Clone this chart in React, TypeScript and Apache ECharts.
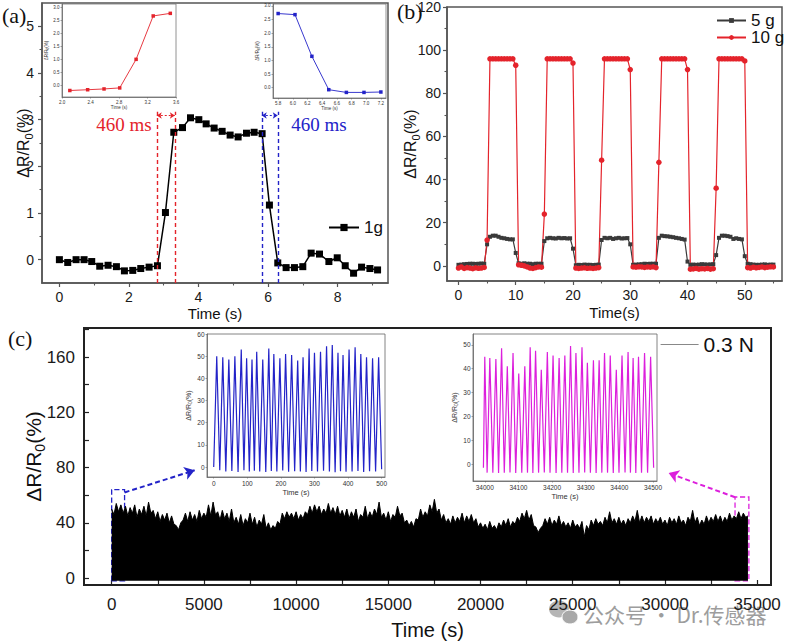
import React, { useEffect, useRef } from "react";
import * as echarts from "echarts";

const SANS = "'Liberation Sans', Arial, Helvetica, sans-serif";
const SERIF = "'Liberation Serif', 'Times New Roman', serif";

// ---------- Panel (a): response / recovery, 1 g ----------
const aTime = [0, 0.24, 0.48, 0.71, 0.93, 1.16, 1.4, 1.64, 1.87, 2.11, 2.34, 2.58, 2.82, 3.05, 3.29, 3.54, 3.77, 4.01, 4.22, 4.45, 4.68, 4.91, 5.14, 5.38, 5.6, 5.83, 6.04, 6.28, 6.52, 6.76, 7.0, 7.24, 7.48, 7.75, 7.99, 8.22, 8.46, 8.69, 8.93, 9.15];
const aResp = [0, -0.06, 0, 0, -0.04, -0.14, -0.12, -0.15, -0.24, -0.23, -0.19, -0.16, -0.13, 1.01, 2.73, 2.83, 3.04, 3.0, 2.91, 2.82, 2.75, 2.67, 2.63, 2.71, 2.73, 2.7, 1.17, -0.07, -0.17, -0.17, -0.15, 0.14, 0.12, -0.04, 0.04, -0.13, -0.29, -0.16, -0.19, -0.22];
const riseTime = [2.11, 2.36, 2.59, 2.81, 3.04, 3.28, 3.52];
const riseVal = [-0.2, -0.17, -0.14, -0.1, 1.0, 2.67, 2.77];
const fallTime = [5.8, 6.03, 6.26, 6.49, 6.73, 6.97, 7.2];
const fallVal = [2.72, 2.68, 1.15, -0.075, -0.175, -0.175, -0.16];
const responseMarks = [2.8, 3.32];
const recoveryMarks = [5.82, 6.28];
const aXTicks = [0, 2, 4, 6, 8];
const aXMinor = [1, 3, 5, 7, 9];
const aYTicks = [0, 1, 2, 3, 4, 5];
const aYMinor = [0.5, 1.5, 2.5, 3.5, 4.5];
const riseXTicks = [2.0, 2.4, 2.8, 3.2, 3.6];
const insetYTicks = [0, 0.5, 1.0, 1.5, 2.0, 2.5, 3.0];
const fallXTicks = [5.8, 6.0, 6.2, 6.4, 6.6, 6.8, 7.0, 7.2];

// ---------- Panel (b): 5 g / 10 g cycles ----------
const timeB = [0, 0.5, 1, 1.5, 2, 2.5, 3, 3.5, 4, 4.5, 5, 5.5, 6, 6.5, 7, 7.5, 8, 8.5, 9, 9.5, 10, 10.5, 11, 11.5, 12, 12.5, 13, 13.5, 14, 14.5, 15, 15.5, 16, 16.5, 17, 17.5, 18, 18.5, 19, 19.5, 20, 20.5, 21, 21.5, 22, 22.5, 23, 23.5, 24, 24.5, 25, 25.5, 26, 26.5, 27, 27.5, 28, 28.5, 29, 29.5, 30, 30.5, 31, 31.5, 32, 32.5, 33, 33.5, 34, 34.5, 35, 35.5, 36, 36.5, 37, 37.5, 38, 38.5, 39, 39.5, 40, 40.5, 41, 41.5, 42, 42.5, 43, 43.5, 44, 44.5, 45, 45.5, 46, 46.5, 47, 47.5, 48, 48.5, 49, 49.5, 50, 50.5, 51, 51.5, 52, 52.5, 53, 53.5, 54, 54.5, 55];
const load10g = [
  -1, -0.5, -1.2, -0.8, -1, -1.3, -0.9, -1.1, -1, -0.7,
  12, 96, 96, 96, 96, 96, 96, 96, 96, 96,
  93, 0.5, 0.3, 0, -0.5, -1, -1.2, -0.8, -0.5, -0.6,
  24, 96, 96, 96, 96, 96, 96, 96, 96, 96,
  94, -1, -1.2, -1, -0.9, -1.1, -1, -1.2, -1, -0.8,
  49, 96, 96, 96, 96, 96, 96, 96, 96, 96,
  91, -0.5, -0.6, -0.4, -0.5, -0.7, -0.5, -0.6, -0.4, -0.8,
  48, 96, 96, 96, 96, 96, 96, 96, 96, 96,
  91, -1.5, -1.4, -1.2, -1.5, -1.3, -1.4, -1.2, -1.5, -1.3,
  36, 96, 96, 96, 96, 96, 96, 96, 96, 96,
  95, -0.8, -1, -0.6, -0.9, -0.7, -0.5, -0.8, -0.6, -0.4, -0.5,
];
const load5g = [
  0.5, 0.6, 0.8, 0.9, 1, 1, 0.9, 1, 1.1, 1,
  10, 13.5, 14, 14, 13.5, 13, 12.8, 12.5, 12.3, 12.3,
  6, 1.2, 1, 1.2, 1, 1, 0.8, 1, 1, 1,
  11.5, 12.8, 13, 12.8, 12.7, 13, 12.8, 12.9, 12.7, 12.8,
  8, 0.3, 0.5, 0.4, 0.6, 0.5, 0.5, 0.4, 0.5, 0.6,
  12, 13, 12.8, 13, 12.5, 12.8, 13, 12.7, 12.8, 12.9,
  10, 0.5, 0.6, 0.7, 0.8, 1, 0.9, 1, 1, 1,
  13, 14, 13.8, 13.7, 13.5, 13.3, 13, 12.8, 12.5, 12.2,
  2, 0.5, 0.6, 0.5, 0.6, 0.8, 0.7, 0.6, 0.7, 0.8,
  5, 13, 14, 14, 13.8, 13.5, 12.5, 12.8, 12.5, 12.3,
  4.5, 1, 0.8, 0.6, 0.5, 0.5, 0.6, 0.7, 0.5, 0.6, 0.6,
];
const bXTicks = [0, 10, 20, 30, 40, 50];
const bXMinor = [5, 15, 25, 35, 45, 55];
const bYTicks = [0, 20, 40, 60, 80, 100, 120];
const bYMinor = [10, 30, 50, 70, 90, 110];

// ---------- Panel (c): 0.3 N endurance (upper envelope of the dense cycling trace) ----------
const enduranceEnvelope: [number, number][] = [
  [0, 50], [125, 46], [250, 54], [375, 48], [500, 53], [625, 47], [750, 52], [875, 45], [1000, 51], [1125, 47],
  [1250, 53], [1375, 44], [1500, 50], [1625, 46], [1750, 52], [1875, 45], [2000, 55], [2125, 47], [2250, 49], [2375, 43],
  [2500, 48], [2625, 41], [2750, 46], [2875, 42], [3000, 47], [3125, 40], [3250, 45], [3375, 39], [3500, 38], [3625, 35],
  [3750, 40], [3875, 42], [4000, 47], [4125, 41], [4250, 48], [4375, 42], [4500, 46], [4625, 41], [4750, 49], [4875, 43],
  [5000, 47], [5125, 44], [5250, 53], [5375, 45], [5500, 55], [5625, 46], [5750, 48], [5875, 42], [6000, 49], [6125, 43],
  [6250, 47], [6375, 41], [6500, 50], [6625, 40], [6750, 44], [6875, 39], [7000, 46], [7125, 38], [7250, 43], [7375, 40],
  [7500, 47], [7625, 39], [7750, 44], [7875, 37], [8000, 42], [8125, 39], [8250, 46], [8375, 36], [8500, 40], [8625, 35],
  [8750, 38], [8875, 36], [9000, 41], [9125, 39], [9250, 47], [9375, 43], [9500, 48], [9625, 44], [9750, 47], [9875, 43],
  [10000, 48], [10125, 42], [10250, 46], [10375, 43], [10500, 48], [10625, 46], [10750, 52], [10875, 47], [11000, 53], [11125, 48],
  [11250, 52], [11375, 46], [11500, 50], [11625, 47], [11750, 54], [11875, 47], [12000, 51], [12125, 46], [12250, 52], [12375, 45],
  [12500, 49], [12625, 44], [12750, 50], [12875, 43], [13000, 48], [13125, 44], [13250, 50], [13375, 41], [13500, 46], [13625, 44],
  [13750, 52], [13875, 43], [14000, 48], [14125, 44], [14250, 50], [14375, 46], [14500, 55], [14625, 44], [14750, 47], [14875, 42],
  [15000, 48], [15125, 41], [15250, 46], [15375, 44], [15500, 52], [15625, 45], [15750, 47], [15875, 40], [16000, 42], [16125, 38],
  [16250, 41], [16375, 37], [16500, 43], [16625, 42], [16750, 50], [16875, 44], [17000, 48], [17125, 45], [17250, 53], [17375, 48],
  [17500, 57], [17625, 47], [17750, 50], [17875, 42], [18000, 46], [18125, 40], [18250, 43], [18375, 39], [18500, 45], [18625, 40],
  [18750, 44], [18875, 41], [19000, 47], [19125, 40], [19250, 45], [19375, 41], [19500, 46], [19625, 40], [19750, 43], [19875, 37],
  [20000, 40], [20125, 36], [20250, 39], [20375, 35], [20500, 41], [20625, 36], [20750, 38], [20875, 35], [21000, 40], [21125, 37],
  [21250, 42], [21375, 38], [21500, 43], [21625, 37], [21750, 41], [21875, 39], [22000, 44], [22125, 41], [22250, 47], [22375, 43],
  [22500, 49], [22625, 42], [22750, 46], [22875, 38], [23000, 37], [23125, 33], [23250, 36], [23375, 38], [23500, 43], [23625, 39],
  [23750, 44], [23875, 38], [24000, 42], [24125, 39], [24250, 45], [24375, 38], [24500, 41], [24625, 37], [24750, 40], [24875, 36],
  [25000, 42], [25125, 37], [25250, 39], [25375, 36], [25500, 41], [25625, 30], [25750, 38], [25875, 35], [26000, 42], [26125, 38],
  [26250, 43], [26375, 39], [26500, 41], [26625, 38], [26750, 44], [26875, 40], [27000, 48], [27125, 40], [27250, 43], [27375, 39],
  [27500, 44], [27625, 39], [27750, 42], [27875, 38], [28000, 43], [28125, 40], [28250, 45], [28375, 41], [28500, 49], [28625, 40],
  [28750, 45], [28875, 40], [29000, 44], [29125, 41], [29250, 45], [29375, 39], [29500, 43], [29625, 40], [29750, 44], [29875, 39],
  [30000, 42], [30125, 38], [30250, 44], [30375, 40], [30500, 43], [30625, 39], [30750, 45], [30875, 40], [31000, 42], [31125, 38],
  [31250, 44], [31375, 41], [31500, 49], [31625, 40], [31750, 44], [31875, 38], [32000, 42], [32125, 39], [32250, 45], [32375, 40],
  [32500, 44], [32625, 41], [32750, 46], [32875, 41], [33000, 45], [33125, 40], [33250, 44], [33375, 41], [33500, 47], [33625, 42],
  [33750, 45], [33875, 43], [34000, 48], [34125, 43], [34250, 47], [34375, 44], [34500, 45],
];
const earlyWave: [number, number][] = [
  [0, 0], [9, 50], [18, -1.5], [27, 49.5], [36, -2], [45, 48.5], [54, -1.8], [63, 50], [72.5, -2.2], [82, 53],
  [90, -1.5], [98, 49], [106, -2], [114, 48.5], [121, -1.7], [128, 52], [137, -2], [146, 48.5], [155, -2.2], [164, 53.5],
  [171.5, -1.8], [179, 51], [188, -2], [197, 49], [205.5, -1.6], [214, 51], [223, -2.1], [232, 50.5], [241, -1.9], [250, 48],
  [258, -2], [266, 49.5], [275, -2.2], [284, 53.5], [292, -1.8], [300, 51.5], [309, -2], [318, 52], [327, -1.7], [336, 54.5],
  [344.5, -2], [353, 55], [361.5, -2.3], [370, 51.5], [377.5, -1.9], [385, 50.5], [394, -2.1], [403, 53], [412, -2], [421, 54],
  [429.5, -1.8], [438, 51], [446.5, -2.2], [455, 49.5], [464, -1.9], [473, 49], [482, -2], [491, 49.5], [500, -1],
];
const lateWave: [number, number][] = [
  [33996, -1.5], [34000, 45], [34007, -3.5], [34015, 44.5], [34024, -3.5], [34033, 44], [34041, -3.6], [34050, 48.5], [34058, -3.5], [34067, 41],
  [34075, -3.4], [34084, 46.5], [34092, -3.6], [34101, 38], [34110, -3.5], [34119, 41], [34127, -3.5], [34135, 49], [34143, -3.6], [34151, 47.5],
  [34160, -3.5], [34168, 39.5], [34177, -3.4], [34186, 47], [34194, -3.5], [34203, 45.5], [34212, -3.6], [34221, 44.5], [34229, -3.5], [34238, 45.5],
  [34246, -3.5], [34255, 49.5], [34263, -3.6], [34271, 46.5], [34280, -3.5], [34289, 49], [34297, -3.4], [34305, 42.5], [34314, -3.5], [34323, 43.5],
  [34331, -3.6], [34340, 43.5], [34348, -3.5], [34356, 46.5], [34365, -3.5], [34373, 45.5], [34382, -3.6], [34391, 39.5], [34399, -3.5], [34408, 45.5],
  [34417, -3.4], [34426, 47], [34433, -3.5], [34441, 44.5], [34449, -3.6], [34457, 45], [34466, -3.5], [34475, 46.5], [34484, -3.5], [34493, 45],
  [34502, -1.5],
];
const earlyWindow = [0, 700, -2, 64];
const lateWindow = [33800, 34550, -2, 58.7];
const cXLabels = [0, 5000, 10000, 15000, 20000, 25000, 30000, 35000];
const cXTicks = [0, 2500, 5000, 7500, 10000, 12500, 15000, 17500, 20000, 22500, 25000, 27500, 30000, 32500, 35000];
const cYLabels = [0, 40, 80, 120, 160];
const cYTicks = [0, 20, 40, 60, 80, 100, 120, 140, 160, 180];
const earlyXTicks = [0, 100, 200, 300, 400, 500];
const earlyYTicks = [0, 10, 20, 30, 40, 50, 60];
const lateXTicks = [34000, 34100, 34200, 34300, 34400, 34500];
const lateYTicks = [0, 10, 20, 30, 40, 50];

const RED = "#e4232b";
const BLUE = "#2323c8";
const MAGENTA = "#dc1fdc";

const titleName = "{a|ΔR/R}{s|0}{a|(%)}";
const titleStyle = (size: number, color = "#111") => ({
  fontSize: size,
  fontFamily: SANS,
  color,
  rich: {
    a: { fontSize: size, fontFamily: SANS, color, lineHeight: size + 6 },
    s: { fontSize: Math.round(size * 0.68), fontFamily: SANS, color, verticalAlign: "bottom", lineHeight: Math.round(size * 0.68) },
  },
});

const plain = (v: number) => String(v);
const fix1 = (v: number) => v.toFixed(1);

function axis(o: any) {
  return { type: "value", splitLine: { show: false }, ...o };
}

function mainAxis(grid: number, min: number, max: number, pos: string, ticks: number[], opts: any) {
  const color = opts.color || "#555";
  const isY = pos === "left" || pos === "right";
  return axis({
    gridIndex: grid,
    min,
    max,
    position: pos,
    axisLine: { show: true, onZero: false, lineStyle: { color, width: opts.lineWidth || 1.5 } },
    axisTick: {
      show: true,
      inside: !!opts.inside,
      length: opts.tickLen || 4,
      customValues: opts.tickValues || ticks,
      lineStyle: { color, width: 1.2 },
    },
    axisLabel: {
      customValues: ticks,
      color: "#1a1a1a",
      fontSize: opts.fontSize,
      fontFamily: SANS,
      margin: opts.margin,
      formatter: opts.formatter || plain,
    },
    name: opts.name,
    nameLocation: "middle",
    nameGap: opts.nameGap,
    nameTextStyle: opts.nameTextStyle,
    ...(isY ? { nameMoveOverlap: false } : {}),
  });
}

function minorAxis(grid: number, min: number, max: number, pos: string, ticks: number[], len: number) {
  return axis({
    gridIndex: grid,
    min,
    max,
    position: pos,
    axisLine: { show: false, onZero: false },
    axisLabel: { show: false },
    axisTick: { show: true, inside: false, length: len, customValues: ticks, lineStyle: { color: "#555", width: 1.1 } },
  });
}

function insetAxis(grid: number, min: number, max: number, pos: string, ticks: number[], fontSize: number, fmt: any, name: string, nameGap: number, nameStyle: any) {
  return axis({
    gridIndex: grid,
    min,
    max,
    position: pos,
    axisLine: { show: true, onZero: false, lineStyle: { color: "#666", width: 0.8 } },
    axisTick: { show: true, inside: false, length: 1.5, customValues: ticks, lineStyle: { color: "#666", width: 0.6 } },
    axisLabel: { customValues: ticks, fontSize, fontFamily: SANS, color: "#333", margin: 2.5, formatter: fmt },
    name,
    nameLocation: "middle",
    nameGap,
    nameTextStyle: nameStyle,
  });
}

export default function App() {
  const ref = useRef<HTMLDivElement>(null);
  useEffect(() => {
    if (!ref.current) return;
    const chart = echarts.init(ref.current, null, { renderer: "svg" });
    const aData = aTime.map((t, i) => [t, aResp[i]]);
    const riseData = riseTime.map((t, i) => [t, riseVal[i]]);
    const fallData = fallTime.map((t, i) => [t, fallVal[i]]);
    const d10 = timeB.map((t, i) => [t, load10g[i]]);
    const d5 = timeB.map((t, i) => [t, load5g[i]]);

    const vline = (x: number, color: string) => [
      { coord: [x, -0.5], lineStyle: { color, type: [4, 3], width: 1.4 }, symbol: "none" },
      { coord: [x, 3.17], symbol: "none" },
    ];
    const harrow = (x0: number, x1: number, color: string) => [
      { coord: [x0, 3.09], lineStyle: { color, type: [2, 2], width: 1 }, symbol: "arrow", symbolSize: 5 },
      { coord: [x1, 3.09], symbol: "arrow", symbolSize: 5 },
    ];

    const tinyName = (size: number) => ({ fontSize: size, fontFamily: SANS, color: "#333" });
    const tinyTitle = (size: number) => ({
      fontSize: size,
      fontFamily: SANS,
      color: "#333",
      rich: {
        a: { fontSize: size, fontFamily: SANS, color: "#333", lineHeight: size + 2 },
        s: { fontSize: size * 0.7, fontFamily: SANS, color: "#333", verticalAlign: "bottom", lineHeight: size * 0.7 },
      },
    });

    const option: any = {
      animation: false,
      backgroundColor: "#ffffff",
      grid: [
        { left: 42, top: 3, width: 346, height: 280, show: true, borderColor: "#555", borderWidth: 1.5, backgroundColor: "transparent" },
        { left: 62, top: 4, width: 114, height: 93, show: true, borderColor: "#777", borderWidth: 0.8, backgroundColor: "#fff" },
        { left: 273, top: 4, width: 113, height: 94, show: true, borderColor: "#777", borderWidth: 0.8, backgroundColor: "#fff" },
        { left: 447, top: 7, width: 335, height: 274, show: true, borderColor: "#555", borderWidth: 1.5, backgroundColor: "transparent" },
        { left: 84, top: 328, width: 687, height: 257, show: true, borderColor: "#222", borderWidth: 2, backgroundColor: "transparent" },
        { left: 207, top: 334, width: 178, height: 143, show: true, borderColor: "#666", borderWidth: 0.8, backgroundColor: "#fff" },
        { left: 473, top: 334, width: 184, height: 147, show: true, borderColor: "#666", borderWidth: 0.8, backgroundColor: "#fff" },
      ],
      xAxis: [
        mainAxis(0, -0.5, 9.45, "bottom", aXTicks, { fontSize: 14, margin: 7, name: "Time (s)", nameGap: 23, nameTextStyle: { fontSize: 15, fontFamily: SANS, color: "#111" } }),
        minorAxis(0, -0.5, 9.45, "bottom", aXMinor, 2.5),
        insetAxis(1, 2.0, 3.6, "bottom", riseXTicks, 4.5, fix1, "Time (s)", 7, tinyName(4.5)),
        insetAxis(2, 5.73, 7.27, "bottom", fallXTicks, 4.5, fix1, "Time (s)", 7, tinyName(4.5)),
        mainAxis(3, -2, 56.5, "bottom", bXTicks, { fontSize: 14, margin: 7, name: "Time(s)", nameGap: 24, nameTextStyle: { fontSize: 15, fontFamily: SANS, color: "#111" } }),
        minorAxis(3, -2, 56.5, "bottom", bXMinor, 2.5),
        mainAxis(4, -1500, 35750, "bottom", cXLabels, { color: "#222", inside: true, tickLen: 5, tickValues: cXTicks, fontSize: 17, margin: 11, name: "Time (s)", nameGap: 35, nameTextStyle: { fontSize: 20, fontFamily: SANS, color: "#111" } }),
        insetAxis(5, -20, 510, "bottom", earlyXTicks, 6.5, plain, "Time (s)", 11, tinyName(7.5)),
        insetAxis(6, 33965, 34512, "bottom", lateXTicks, 6.5, plain, "Time (s)", 11, tinyName(7.5)),
      ],
      yAxis: [
        mainAxis(0, -0.5, 5.5, "left", aYTicks, { fontSize: 14, margin: 8, name: titleName, nameGap: 8, nameTextStyle: titleStyle(16) }),
        minorAxis(0, -0.5, 5.5, "left", aYMinor, 2.5),
        insetAxis(1, -0.45, 3.13, "left", insetYTicks, 4.5, fix1, titleName, 9, tinyTitle(4.5)),
        insetAxis(2, -0.38, 3.07, "left", insetYTicks, 4.5, fix1, titleName, 9, tinyTitle(4.5)),
        mainAxis(3, -7, 120, "left", bYTicks, { fontSize: 14, margin: 6, name: titleName, nameGap: 26, nameTextStyle: titleStyle(16) }),
        minorAxis(3, -7, 120, "left", bYMinor, 2.5),
        mainAxis(4, -5, 181, "left", cYLabels, { color: "#222", inside: true, tickLen: 5, tickValues: cYTicks, fontSize: 17, margin: 9, name: titleName, nameGap: 37, nameTextStyle: titleStyle(21) }),
        insetAxis(5, -4.5, 60, "left", earlyYTicks, 6.5, plain, titleName, 12, tinyTitle(7)),
        insetAxis(6, -7, 54.5, "left", lateYTicks, 6.5, plain, titleName, 12, tinyTitle(7)),
      ],
      legend: [
        {
          left: 328, top: 219, padding: 0, itemWidth: 30, itemHeight: 9, itemGap: 4,
          data: ["1g"], textStyle: { fontSize: 17, fontFamily: SANS, color: "#111" },
        },
        {
          left: 716, top: 12, padding: 0, orient: "vertical", itemWidth: 29, itemHeight: 6, itemGap: 0,
          data: ["5 g", "10 g"], textStyle: { fontSize: 17, fontFamily: SANS, color: "#111" },
        },
        {
          left: 660, top: 334, padding: 0, itemWidth: 38, itemHeight: 14,
          data: [{ name: "0.3 N", lineStyle: { color: "#888", width: 1.2 }, itemStyle: { opacity: 0 } }],
          textStyle: { fontSize: 21, fontFamily: SANS, color: "#111" },
        },
      ],
      series: [
        {
          name: "1g", type: "line", xAxisIndex: 0, yAxisIndex: 0, data: aData,
          symbol: "rect", symbolSize: 7, lineStyle: { color: "#000", width: 1.5 }, itemStyle: { color: "#000" },
          markLine: {
            silent: true, label: { show: false }, symbol: "none",
            data: [
              vline(responseMarks[0], RED), vline(responseMarks[1], RED),
              vline(recoveryMarks[0], BLUE), vline(recoveryMarks[1], BLUE),
              harrow(responseMarks[0], responseMarks[1], RED),
              harrow(recoveryMarks[0], recoveryMarks[1], BLUE),
            ],
          },
        },
        {
          name: "riseInset", type: "line", xAxisIndex: 2, yAxisIndex: 2, data: riseData,
          symbol: "rect", symbolSize: 3.5, lineStyle: { color: RED, width: 0.9 }, itemStyle: { color: RED },
        },
        {
          name: "fallInset", type: "line", xAxisIndex: 3, yAxisIndex: 3, data: fallData,
          symbol: "rect", symbolSize: 3.5, lineStyle: { color: BLUE, width: 0.9 }, itemStyle: { color: BLUE },
        },
        {
          name: "5 g", type: "line", xAxisIndex: 4, yAxisIndex: 4, data: d5,
          symbol: "rect", symbolSize: 4, lineStyle: { color: "#3a3a3a", width: 1.2 }, itemStyle: { color: "#3a3a3a" },
        },
        {
          name: "10 g", type: "line", xAxisIndex: 4, yAxisIndex: 4, data: d10,
          symbol: "circle", symbolSize: 5.5, lineStyle: { color: RED, width: 1.2 }, itemStyle: { color: RED },
        },
        {
          name: "0.3 N", type: "line", xAxisIndex: 6, yAxisIndex: 6, data: enduranceEnvelope,
          symbol: "none", lineStyle: { color: "#000", width: 1 }, itemStyle: { color: "#000" },
          areaStyle: { color: "#000", opacity: 1, origin: -2 },
          markArea: {
            silent: true,
            data: [
              [
                { coord: [earlyWindow[0], earlyWindow[2]], itemStyle: { color: "rgba(0,0,0,0)", borderColor: BLUE, borderWidth: 1.3, borderType: "dashed" } },
                { coord: [earlyWindow[1], earlyWindow[3]] },
              ],
              [
                { coord: [lateWindow[0], lateWindow[2]], itemStyle: { color: "rgba(0,0,0,0)", borderColor: MAGENTA, borderWidth: 1.3, borderType: "dashed" } },
                { coord: [lateWindow[1], lateWindow[3]] },
              ],
            ],
          },
          markLine: {
            silent: true, label: { show: false }, symbol: ["none", "arrow"], symbolSize: 10,
            data: [
              [
                { coord: [earlyWindow[1], 62], lineStyle: { color: BLUE, type: [5, 3], width: 2 } },
                { coord: [4500, 78] },
              ],
              [
                { coord: [lateWindow[0], 58.5], lineStyle: { color: MAGENTA, type: [5, 3], width: 2 } },
                { coord: [30200, 76] },
              ],
            ],
          },
        },
        {
          name: "earlyInset", type: "line", xAxisIndex: 7, yAxisIndex: 7, data: earlyWave,
          symbol: "none", lineStyle: { color: BLUE, width: 1.2 },
        },
        {
          name: "lateInset", type: "line", xAxisIndex: 8, yAxisIndex: 8, data: lateWave,
          symbol: "none", lineStyle: { color: MAGENTA, width: 1.2 },
        },
      ],
      graphic: [
        { type: "text", left: 2, top: 4, style: { text: "(a)", font: `22px ${SERIF}`, fill: "#111" } },
        { type: "text", left: 397, top: 0, style: { text: "(b)", font: `22px ${SERIF}`, fill: "#111" } },
        { type: "text", left: 8, top: 327, style: { text: "(c)", font: `22px ${SERIF}`, fill: "#111" } },
        { type: "text", x: 124, y: 124, style: { text: "460 ms", font: `19px ${SERIF}`, fill: RED, align: "center", verticalAlign: "middle" } },
        { type: "text", x: 319, y: 124, style: { text: "460 ms", font: `19px ${SERIF}`, fill: BLUE, align: "center", verticalAlign: "middle" } },
        { type: "ellipse", shape: { cx: 559, cy: 609, rx: 10, ry: 8.5 }, style: { fill: "#b5b5b5" } },
        { type: "ellipse", shape: { cx: 570, cy: 617, rx: 8, ry: 7 }, style: { fill: "#a8a8a8", stroke: "#fff", lineWidth: 1 } },
        { type: "text", x: 583, y: 614, style: { text: "公众号 · Dr.传感器", font: `21px 'Noto Sans CJK SC', sans-serif`, fill: "#9d9d9d", verticalAlign: "middle" } },
      ],
    };
    chart.setOption(option);
    return () => chart.dispose();
  }, []);
  return <div ref={ref} style={{ position: "fixed", left: 0, top: 0, width: 787, height: 641, background: "#fff" }} />;
}
